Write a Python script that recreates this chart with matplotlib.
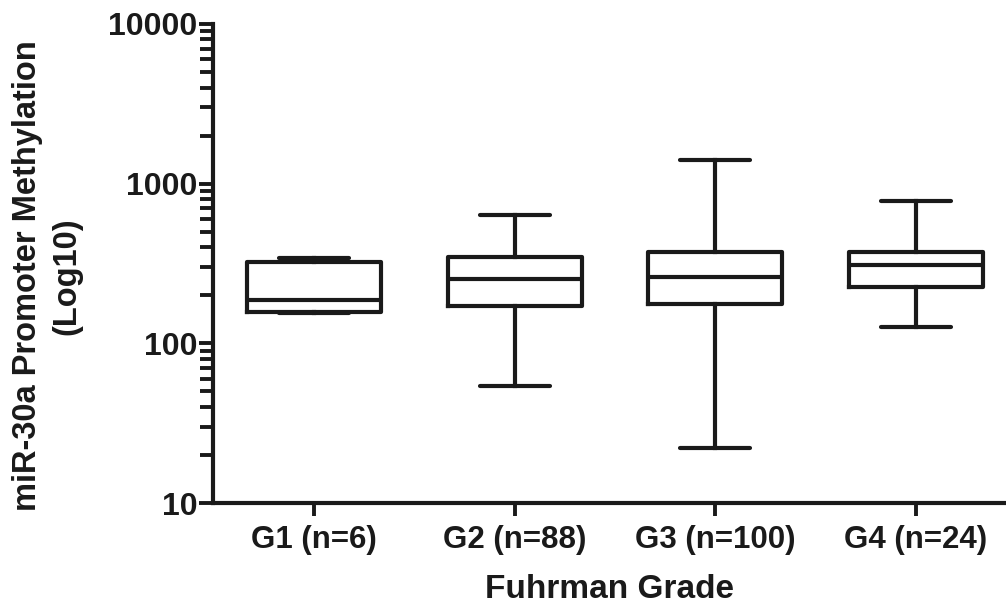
import matplotlib
matplotlib.use("Agg")
import matplotlib.pyplot as plt
from matplotlib.ticker import LogLocator, FixedLocator, NullFormatter

categories = ["G1 (n=6)", "G2 (n=88)", "G3 (n=100)", "G4 (n=24)"]
whisker_low = [156, 54, 22, 127]
q1 = [158, 172, 177, 225]
median = [187, 254, 262, 311]
q3 = [324, 349, 371, 371]
whisker_high = [343, 640, 1400, 774]
y_ticks = [10, 100, 1000, 10000]
y_tick_labels = ["10", "100", "1000", "10000"]

plt.rcParams['font.family'] = ['Liberation Sans', 'DejaVu Sans']
plt.rcParams['font.weight'] = 'bold'

ink = '#1a1a1a'
fig = plt.figure(figsize=(10.06, 6.07), dpi=100)
ax = fig.add_axes([0.2117, 0.1713, 0.7883, 0.7892])

stats = []
for i, lab in enumerate(categories):
    stats.append(dict(label=lab, whislo=whisker_low[i], q1=q1[i], med=median[i],
                      q3=q3[i], whishi=whisker_high[i], fliers=[]))

lw = 3.0
positions = list(range(1, len(categories) + 1))
ax.bxp(stats, positions=positions, widths=0.67, capwidths=0.35, showfliers=False,
       boxprops=dict(color=ink, linewidth=lw, solid_joinstyle='round'),
       medianprops=dict(color=ink, linewidth=lw),
       whiskerprops=dict(color=ink, linewidth=lw),
       capprops=dict(color=ink, linewidth=lw, solid_capstyle='round'))

ax.set_yscale('log')
ax.set_ylim(10, 10000)
ax.set_xlim(0.495, 4.45)

ax.yaxis.set_major_locator(FixedLocator(y_ticks))
ax.set_yticklabels(y_tick_labels)
ax.yaxis.set_minor_locator(LogLocator(base=10, subs=range(2, 10)))
ax.yaxis.set_minor_formatter(NullFormatter())

ax.set_xticks(positions)
ax.set_xticklabels(categories)

for s in ['top', 'right']:
    ax.spines[s].set_visible(False)
for s in ['left', 'bottom']:
    ax.spines[s].set_linewidth(lw)
    ax.spines[s].set_color(ink)

ax.tick_params(axis='y', which='major', length=10, width=2.8, color=ink,
               labelsize=23, pad=1, labelcolor=ink)
ax.tick_params(axis='y', which='minor', length=9.5, width=2.8, color=ink)
ax.tick_params(axis='x', which='major', length=9.5, width=2.8, color=ink,
               labelsize=22.5, pad=6, labelcolor=ink)

for t in ax.get_xticklabels() + ax.get_yticklabels():
    t.set_fontweight('bold')

ax.set_xlabel("Fuhrman Grade", fontsize=24, fontweight='bold', color=ink)
ax.xaxis.set_label_coords(0.5, -0.148)
ax.set_ylabel("miR-30a Promoter Methylation\n(Log10)", fontsize=23.5,
              fontweight='bold', color=ink, linespacing=1.32)
ax.yaxis.set_label_coords(-0.165, 0.474)

fig.savefig("out.png", dpi=100)
